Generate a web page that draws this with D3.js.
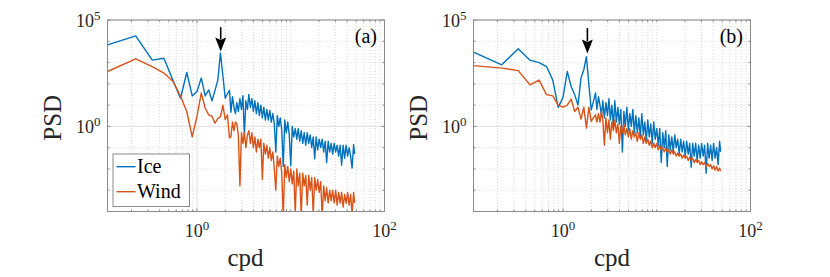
<!DOCTYPE html>
<html><head><meta charset="utf-8">
<script src="https://cdn.jsdelivr.net/npm/d3@7"></script>
<style>body{margin:0;background:#fff} svg{display:block}</style>
</head><body><svg id="c" width="830" height="277"></svg>
<script>
// ---------------- data ----------------
const freq = [0.111,0.222,0.333,0.444,0.556,0.667,0.778,0.889,1.0,1.111,1.222,1.333,1.444,1.556,1.667,1.778,1.889,2.0,2.111,2.222,
 2.30,2.39,2.48,2.57,2.66,2.76,2.87,2.98,3.09,3.20,3.32,3.45,3.57,3.71,3.85,3.99,4.14,4.30,4.46,4.62,
 4.80,4.98,5.16,5.36,5.56,5.76,5.98,6.20,6.44,6.68,6.93,7.19,7.45,7.73,8.02,8.32,8.63,8.96,9.29,9.64,
 10.0,10.38,10.76,11.17,11.59,12.02,12.47,12.94,13.42,13.93,14.45,14.99,15.55,16.13,16.73,17.36,18.01,18.68,19.38,20.11,
 20.86,21.64,22.45,23.29,24.16,25.07,26.0,26.98,27.99,29.03,30.12,31.25,32.42,33.63,34.89,36.2,37.55,38.96,40.41,41.93,
 43.5,45.12,46.82,48.0];

const iceA = [6800,18000,1300,1600,140,21,340,27,44,190,27,52,16,49,150,2800,240,21,34,49,
 4.6,25,7.9,4.0,13,5.0,20,6.3,28,0.35,
 16,6.3,32,7.9,20,5.0,16,4.0,13,3.2,
 10,2.5,7.9,2.0,6.3,2.0,5.6,1.6,4.0,1.3,
 0.063,3.2,1.0,2.5,0.63,0.013,2.0,0.5,1.6,0.4,
 0.014,1.0,0.32,0.79,0.25,0.79,0.2,0.63,0.16,0.5,
 0.13,0.5,0.16,0.4,0.1,0.32,0.03,0.32,0.079,0.25,
 0.1,0.25,0.063,0.2,0.02,0.2,0.063,0.16,0.05,0.16,
 0.063,0.13,0.04,0.13,0.015,0.13,0.032,0.13,0.04,0.1,
 0.04,0.011,0.14,0.05];

const windA = [380,1500,650,320,130,26,5,0.32,3,37,7.3,3.5,3,1.4,2.4,2.8,10,2.1,3.5,0.29,
 0.32,1.6,0.63,1.6,1.3,0.4,0.0016,0.5,0.16,0.5,
 0.1,0.4,0.63,0.16,0.5,0.1,0.32,0.063,0.25,0.1,
 0.25,0.0032,0.16,0.05,0.13,0.032,0.1,0.025,0.063,0.01,
 0.001,0.04,0.013,0.032,0.0063,0.00005,0.016,0.004,0.013,0.0025,
 0.01,0.002,0.0079,0.00008,0.01,0.0016,0.0063,0.000063,0.0063,0.0016,
 0.005,0.0002,0.005,0.001,0.004,0.000079,0.004,0.001,0.0032,0.00079,
 0.0025,0.00006,0.0016,0.00032,0.0013,0.00025,0.001,0.00032,0.001,0.00025,
 0.001,0.0002,0.00079,0.00025,0.00079,0.00016,0.00063,0.00025,0.00079,0.0002,
 0.00063,0.000079,0.00079,0.00025];

const iceB = [3100,780,4400,1300,1000,650,150,7.8,23,380,75,31,10,190,460,1900,89,6.0,15,37,
 6.3,25,10,3.2,16,2.5,13,3.2,20,2.0,
 10,1.0,16,1.6,7.9,1.3,6.3,0.063,5.0,1.0,
 7.9,0.63,4.0,1.0,6.3,0.5,3.2,0.5,2.5,0.32,
 4.0,0.4,1.6,0.2,2.0,0.32,1.3,0.16,1.6,0.25,
 0.79,0.13,0.79,0.02,0.5,0.1,0.63,0.013,0.4,0.079,
 0.32,0.063,0.4,0.1,0.25,0.05,0.25,0.063,0.2,0.04,
 0.2,0.05,0.16,0.012,0.16,0.04,0.16,0.025,0.13,0.032,
 0.16,0.04,0.13,0.0063,0.16,0.032,0.13,0.025,0.16,0.032,
 0.1,0.016,0.2,0.063];

const windB = [720,550,420,90,150,31,27,10,8.1,10,19,5,8,2.2,8,0.83,8,1.7,2.5,3.5,
 1.6,4.0,1.6,5.0,2.0,0.13,2.5,0.5,2.0,0.25,
 1.6,0.63,2.0,0.5,1.3,0.16,1.0,0.5,1.3,0.4,
 0.79,0.32,0.79,0.25,0.63,0.32,0.5,0.2,0.5,0.25,
 0.4,0.16,0.32,0.16,0.25,0.13,0.2,0.1,0.16,0.1,
 0.16,0.079,0.13,0.079,0.1,0.063,0.1,0.063,0.079,0.05,
 0.079,0.05,0.063,0.04,0.056,0.04,0.05,0.032,0.045,0.032,
 0.04,0.025,0.035,0.025,0.032,0.02,0.028,0.02,0.025,0.016,
 0.022,0.016,0.02,0.013,0.018,0.013,0.016,0.01,0.014,0.0089,
 0.013,0.0079,0.011,0.0079];

const seriesNames = ["Ice", "Wind"];
const panelLabels = ["(a)", "(b)"];
const xDomain = [0.111, 100];
const yDomain = [1e-4, 1e5];
const xTickValues = [1, 100];
const xTickExps = ["0", "2"];
const yTickValues = [1, 1e5];
const yTickExps = ["0", "5"];
const xMinorValues = [0.2,0.3,0.4,0.5,0.6,0.7,0.8,0.9,2,3,4,5,6,7,8,9,10,20,30,40,50,60,70,80,90];
const yMinorValues = [1e-4,1e-3,1e-2,1e-1,10,100,1e3,1e4];
const xLabel = "cpd";
const yLabel = "PSD";
const arrowFreq = [1.79, 1.82];
const arrowTop = [4.6e4, 4.2e4];
const arrowTip = [3.3e3, 2.7e3];

// ---------------- drawing ----------------
const colors = ["#0072BD", "#D95319"];
const FONT = "'Liberation Serif','Times New Roman',serif";
const svg = d3.select("#c");
svg.append("rect").attr("width",830).attr("height",277).attr("fill","#fff");

const panels = [
  {left:107.5, right:384.5, ice:iceA, wind:windA, legend:true},
  {left:473.5, right:750.5, ice:iceB, wind:windB, legend:false}
];
const TOP = 20, BOT = 211.5;

panels.forEach((p, i) => {
  const x = d3.scaleLog().domain(xDomain).range([p.left, p.right]);
  const y = d3.scaleLog().domain(yDomain).range([BOT, TOP]);
  const g = svg.append("g");

  g.append("rect").attr("x",p.left).attr("y",TOP).attr("width",p.right-p.left).attr("height",BOT-TOP).attr("fill","#fff");

  // minor grid (dotted)
  g.selectAll(".xmg").data(xMinorValues).join("line")
    .attr("x1",d=>x(d)).attr("x2",d=>x(d)).attr("y1",TOP).attr("y2",BOT)
    .attr("stroke","#cfcfcf").attr("stroke-width",0.8).attr("stroke-dasharray","1,2");
  g.selectAll(".ymg").data(yMinorValues).join("line")
    .attr("x1",p.left).attr("x2",p.right).attr("y1",d=>y(d)).attr("y2",d=>y(d))
    .attr("stroke","#cfcfcf").attr("stroke-width",0.8).attr("stroke-dasharray","1,2");
  // major grid (solid)
  g.selectAll(".xMg").data(xTickValues).join("line")
    .attr("x1",d=>x(d)).attr("x2",d=>x(d)).attr("y1",TOP).attr("y2",BOT)
    .attr("stroke","#e0e0e0").attr("stroke-width",1);
  g.selectAll(".yMg").data(yTickValues).join("line")
    .attr("x1",p.left).attr("x2",p.right).attr("y1",d=>y(d)).attr("y2",d=>y(d))
    .attr("stroke","#e0e0e0").attr("stroke-width",1);

  // clip
  const cid = "clip"+i;
  svg.append("clipPath").attr("id",cid).append("rect")
    .attr("x",p.left).attr("y",TOP).attr("width",p.right-p.left).attr("height",BOT-TOP);

  const line = d3.line().x(d=>x(d[0])).y(d=>y(d[1]));
  [p.ice, p.wind].forEach((vals, si) => {
    const pts = freq.map((f,k)=>[f, vals[k]]).filter(d=>d[1]!==undefined);
    g.append("path").attr("d", line(pts)).attr("fill","none")
      .attr("stroke", colors[si]).attr("stroke-width",1.4).attr("stroke-linejoin","round")
      .attr("clip-path","url(#"+cid+")");
  });

  // box
  g.append("rect").attr("x",p.left).attr("y",TOP).attr("width",p.right-p.left).attr("height",BOT-TOP)
    .attr("fill","none").attr("stroke","#8a8a8a").attr("stroke-width",1);

  // ticks (inside)
  const tk = 3, tkm = 2;
  const tickCol = "#8a8a8a";
  xTickValues.concat(xMinorValues).forEach((v,j)=>{
    const L = j < xTickValues.length ? tk : tkm;
    g.append("line").attr("x1",x(v)).attr("x2",x(v)).attr("y1",BOT).attr("y2",BOT-L).attr("stroke",tickCol);
    g.append("line").attr("x1",x(v)).attr("x2",x(v)).attr("y1",TOP).attr("y2",TOP+L).attr("stroke",tickCol);
  });
  yTickValues.concat(yMinorValues).forEach((v,j)=>{
    const L = j < yTickValues.length ? tk : tkm;
    g.append("line").attr("x1",p.left).attr("x2",p.left+L).attr("y1",y(v)).attr("y2",y(v)).attr("stroke",tickCol);
    g.append("line").attr("x1",p.right).attr("x2",p.right-L).attr("y1",y(v)).attr("y2",y(v)).attr("stroke",tickCol);
  });

  // tick labels
  xTickValues.forEach((v,j)=>{
    const t = g.append("text").attr("x",x(v)).attr("y",237).attr("text-anchor","middle")
      .attr("font-family",FONT).attr("font-size",18).attr("fill","#262626");
    t.append("tspan").text("10");
    t.append("tspan").attr("dy",-7).attr("font-size",13).text(xTickExps[j]);
  });
  yTickValues.forEach((v,j)=>{
    const t = g.append("text").attr("x",p.left-7).attr("y",y(v)+6.5).attr("text-anchor","end")
      .attr("font-family",FONT).attr("font-size",18).attr("fill","#262626");
    t.append("tspan").text("10");
    t.append("tspan").attr("dy",-7).attr("font-size",13).text(yTickExps[j]);
  });

  // axis labels
  g.append("text").attr("x",(p.left+p.right)/2+(i===0?-0.5:0)).attr("y",266).attr("text-anchor","middle")
    .attr("font-family",FONT).attr("font-size",25).attr("fill","#262626").text(xLabel);
  g.append("text").attr("transform",`translate(${p.left-47},${(TOP+BOT)/2+2}) rotate(-90)`)
    .attr("text-anchor","middle").attr("font-family",FONT).attr("font-size",25).attr("fill","#262626").text(yLabel);

  // panel label
  g.append("text").attr("x",p.right-7.5).attr("y",43).attr("text-anchor","end")
    .attr("font-family",FONT).attr("font-size",20).attr("fill","#000").text(panelLabels[i]);

  // arrow
  const ax = x(arrowFreq[i]), ay0 = y(arrowTop[i]), ay1 = y(arrowTip[i]);
  const hl = 14, hw = 5.5;
  g.append("line").attr("x1",ax).attr("x2",ax).attr("y1",ay0).attr("y2",ay1-hl+2)
    .attr("stroke","#000").attr("stroke-width",1.6);
  g.append("path").attr("d",`M${ax},${ay1} L${ax-hw},${ay1-hl} L${ax},${ay1-hl+2.5} L${ax+hw},${ay1-hl} Z`)
    .attr("fill","#000");

  // legend
  if (p.legend) {
    const lx = p.left+5.5, ly = 154, lw = 76.5, lh = 52.5;
    g.append("rect").attr("x",lx).attr("y",ly).attr("width",lw).attr("height",lh)
      .attr("fill","#fff").attr("stroke","#8a8a8a").attr("stroke-width",1);
    seriesNames.forEach((nm, si)=>{
      const yy = ly + 12.7 + si*25;
      g.append("line").attr("x1",lx+3.5).attr("x2",lx+22.5).attr("y1",yy).attr("y2",yy)
        .attr("stroke",colors[si]).attr("stroke-width",1.4);
      g.append("text").attr("x",lx+24).attr("y",yy+6).attr("font-family",FONT).attr("font-size",20)
        .attr("fill","#000").text(nm);
    });
  }
});
</script>
</body></html>
